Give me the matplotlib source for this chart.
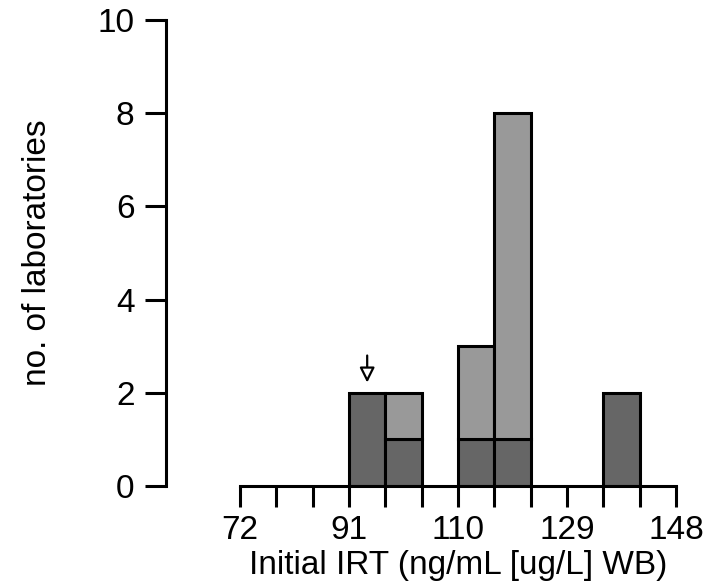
import matplotlib
matplotlib.use("Agg")
import matplotlib.pyplot as plt
import numpy as np

plt.rcParams["font.family"] = ["Liberation Sans", "DejaVu Sans"]

# histogram bins (ng/mL) and lab counts per bin
bin_edges = [72 + i * 19 / 3 for i in range(13)]
dark_counts = [0, 0, 0, 2, 1, 0, 1, 1, 0, 0, 2, 0]
light_counts = [0, 0, 0, 0, 1, 0, 2, 7, 0, 0, 0, 0]
major_ticks = [72, 91, 110, 129, 148]
y_ticks = [0, 2, 4, 6, 8, 10]
arrow_x = 94.17  # reported value
arrow_y = (2.8, 2.22)

DARK = "#666666"
LIGHT = "#999999"
LW = 2.2
FS = 24

fig = plt.figure(figsize=(7.22, 5.84), dpi=100)
ax = fig.add_axes([240 / 722, 98 / 584, 436 / 722, 466 / 584])

lefts = np.array(bin_edges[:-1])
width = bin_edges[1] - bin_edges[0]
dark = np.array(dark_counts)
light = np.array(light_counts)

m = dark > 0
ax.bar(lefts[m], dark[m], width=width, align="edge", color=DARK,
       edgecolor="black", linewidth=LW, zorder=2)
m = light > 0
ax.bar(lefts[m], light[m], width=width, bottom=dark[m], align="edge",
       color=LIGHT, edgecolor="black", linewidth=LW, zorder=2)

ax.annotate("", xy=(arrow_x, arrow_y[1]), xytext=(arrow_x, arrow_y[0]),
            arrowprops=dict(arrowstyle="-|>,head_length=0.9,head_width=0.45",
                            fc="white", ec="black", lw=1.6, shrinkA=0, shrinkB=0))

ax.set_xlim(72, 148)
ax.set_ylim(0, 10)
ax.set_xticks(major_ticks)
ax.set_xticks(bin_edges, minor=True)
ax.set_yticks(y_ticks)

for s in ("top", "right"):
    ax.spines[s].set_visible(False)
ax.spines["left"].set_position(("outward", 53))
ax.spines["left"].set_bounds(0, 10)
ax.spines["bottom"].set_bounds(72, 148)
for s in ("left", "bottom"):
    ax.spines[s].set_linewidth(LW)
    ax.spines[s].set_zorder(3)

ax.tick_params(axis="both", which="both", length=15, width=LW, labelsize=FS)
ax.tick_params(axis="x", which="both", pad=6)
ax.tick_params(axis="y", pad=8)

ax.set_xlabel("Initial IRT (ng/mL [ug/L] WB)", fontsize=FS, labelpad=3)
ax.set_ylabel("no. of laboratories", fontsize=FS, labelpad=32)

fig.savefig("out.png", dpi=100)
